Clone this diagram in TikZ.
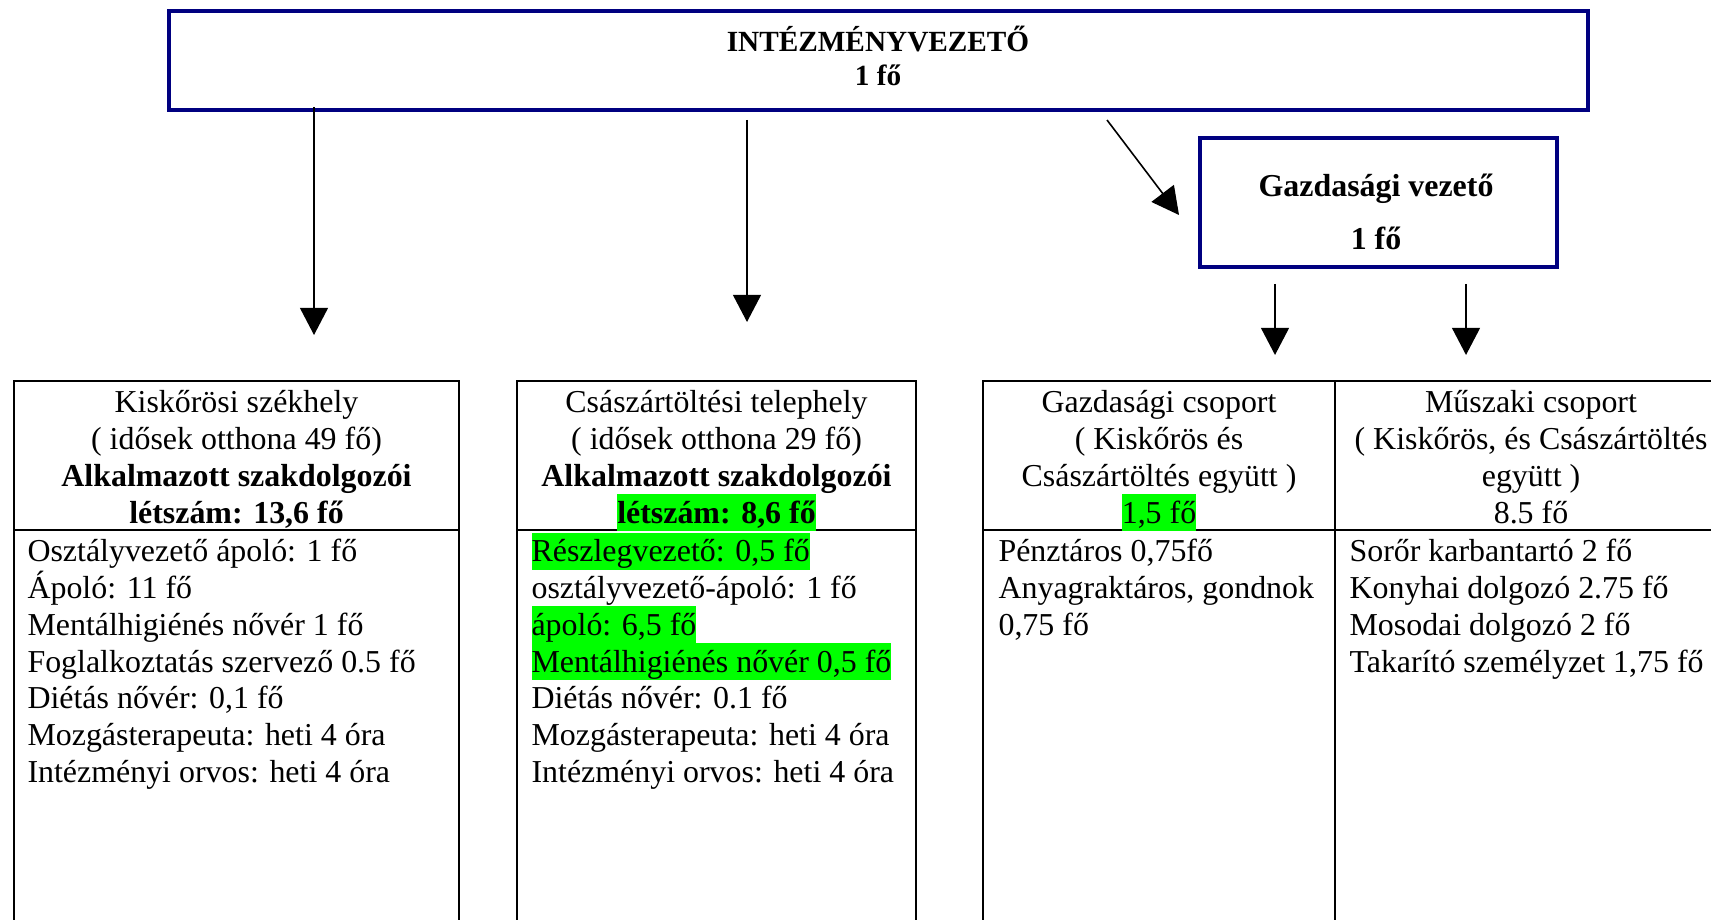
\documentclass[tikz,border=0pt]{standalone}
\usepackage{fontspec}
\setmainfont{Liberation Serif}
\usetikzlibrary{arrows.meta}
\definecolor{navy}{RGB}{0,0,128}
\definecolor{hl}{RGB}{0,255,0}
\begin{document}
\begin{tikzpicture}[x=0.376pt,y=-0.376pt,
  bluebox/.style={draw=navy,line width=1.25pt},
  tabline/.style={draw=black,line width=0.75pt},
  arr/.style={line width=0.6pt,-{Triangle[width=10.5pt,length=10.2pt]}},
  ln/.style={inner sep=0pt,text height=10.9pt,text depth=3pt,font=\fontsize{12pt}{13.8pt}\selectfont},
  cl/.style={ln,anchor=base},
  lf/.style={ln,anchor=base west},
  bl/.style={ln,anchor=base,font=\fontsize{12pt}{13.8pt}\selectfont\bfseries},
  bs/.style={ln,anchor=base,font=\fontsize{11pt}{13pt}\selectfont\bfseries},
  hilite/.style={fill=hl}]
\useasboundingbox (0,0) rectangle (1711,920);
\begin{scope}
\clip (0,0) rectangle (1711,920);
% top boxes
\draw[bluebox] (169,11) rectangle (1588,110);
\node[bs] (top1) at (878,52) {INTÉZMÉNYVEZETŐ};
\node[bs] (top2) at (878,86) {1 fő};
\draw[bluebox] (1200,138) rectangle (1557,267);
\node[bl] (gv1) at (1376,197) {Gazdasági vezető};
\node[bl] (gv2) at (1376,250) {1 fő};
% arrows
\coordinate (a1s) at (314,107); \coordinate (a1e) at (314,335);
\coordinate (a2s) at (747,120); \coordinate (a2e) at (747,322);
\coordinate (a3s) at (1107,120); \coordinate (a3e) at (1179,215);
\coordinate (a4s) at (1275,284); \coordinate (a4e) at (1275,355);
\coordinate (a5s) at (1466,284); \coordinate (a5e) at (1466,355);
\draw[arr] (a1s) -- (a1e);
\draw[arr] (a2s) -- (a2e);
\draw[arr] (a3s) -- (a3e);
\draw[arr] (a4s) -- (a4e);
\draw[arr] (a5s) -- (a5e);
% tables
\draw[tabline] (14,940) -- (14,381) -- (459,381) -- (459,940);
\draw[tabline] (14,530) -- (459,530);
\draw[tabline] (517,940) -- (517,381) -- (916,381) -- (916,940);
\draw[tabline] (517,530) -- (916,530);
\draw[tabline] (983,940) -- (983,381) -- (1727,381) -- (1727,940);
\draw[tabline] (1335,381) -- (1335,940);
\draw[tabline] (983,530) -- (1727,530);
% box 1 header
\node[cl] (h1a) at (236.5,413) {Kiskőrösi székhely};
\node[cl] (h1b) at (236.5,450) {( idősek otthona 49 fő)};
\node[bl] (h1c) at (236.5,487) {Alkalmazott szakdolgozói};
\node[bl] (h1d) at (236.5,523) {létszám: 13,6 fő};
% box 2 header
\node[cl] (h2a) at (716.5,413) {Császártöltési telephely};
\node[cl] (h2b) at (716.5,450) {( idősek otthona 29 fő)};
\node[bl] (h2c) at (716.5,487) {Alkalmazott szakdolgozói};
\node[bl,hilite] (h2d) at (716.5,523) {létszám: 8,6 fő};
% box 3 header
\node[cl] (h3a) at (1159,413) {Gazdasági csoport};
\node[cl] (h3b) at (1159,450) {( Kiskőrös és};
\node[cl] (h3c) at (1159,487) {Császártöltés együtt )};
\node[cl,hilite] (h3d) at (1159,523) {1,5 fő};
% box 4 header
\node[cl] (h4a) at (1531,413) {Műszaki csoport};
\node[cl] (h4b) at (1531,450) {( Kiskőrös, és Császártöltés};
\node[cl] (h4c) at (1531,487) {együtt )};
\node[cl] (h4d) at (1531,523) {8.5 fő};
% box 1 body
\node[lf] (b1a) at (27,562) {Osztályvezető ápoló: 1 fő};
\node[lf] (b1b) at (27,598.7) {Ápoló: 11 fő};
\node[lf] (b1c) at (27,635.4) {Mentálhigiénés nővér 1 fő};
\node[lf] (b1d) at (27,672.1) {Foglalkoztatás szervező 0.5 fő};
\node[lf] (b1e) at (27,708.8) {Diétás nővér: 0,1 fő};
\node[lf] (b1f) at (27,745.5) {Mozgásterapeuta: heti 4 óra};
\node[lf] (b1g) at (27,782.2) {Intézményi orvos: heti 4 óra};
% box 2 body
\node[lf,hilite] (b2a) at (531,562) {Részlegvezető: 0,5 fő};
\node[lf] (b2b) at (531,598.7) {osztályvezető-ápoló: 1 fő};
\node[lf,hilite] (b2c) at (531,635.4) {ápoló: 6,5 fő};
\node[lf,hilite] (b2d) at (531,672.1) {Mentálhigiénés nővér 0,5 fő};
\node[lf] (b2e) at (531,708.8) {Diétás nővér: 0.1 fő};
\node[lf] (b2f) at (531,745.5) {Mozgásterapeuta: heti 4 óra};
\node[lf] (b2g) at (531,782.2) {Intézményi orvos: heti 4 óra};
% box 3 body
\node[lf] (b3a) at (998,562) {Pénztáros 0,75fő};
\node[lf] (b3b) at (998,598.7) {Anyagraktáros, gondnok};
\node[lf] (b3c) at (998,635.4) {0,75 fő};
% box 4 body
\node[lf] (b4a) at (1349,562) {Sorőr karbantartó 2 fő};
\node[lf] (b4b) at (1349,598.7) {Konyhai dolgozó 2.75 fő};
\node[lf] (b4c) at (1349,635.4) {Mosodai dolgozó 2 fő};
\node[lf] (b4d) at (1349,672.1) {Takarító személyzet 1,75 fő};
\end{scope}
\end{tikzpicture}
\end{document}
